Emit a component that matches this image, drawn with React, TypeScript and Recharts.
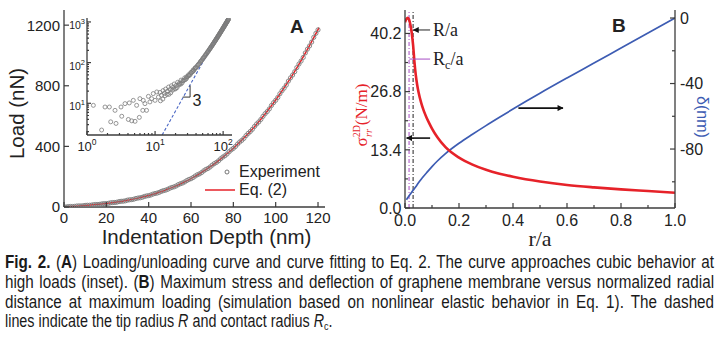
import React from 'react';
import { ComposedChart, Line, Scatter, XAxis, YAxis, ReferenceLine, ReferenceDot, Legend } from 'recharts';

const SANS = '"Liberation Sans", Arial, Helvetica, sans-serif';
const SERIF = '"Liberation Serif", "Times New Roman", serif';
const AX = '#3c3c3c';
const RED = '#e62229';
const BLUE = '#3d5cb3';
const PURPLE = '#a64dc4';
const GRAY = '#7c7c7c';

// ---- panel A: load vs indentation depth ----
const fitDepth = [0, 5, 10, 15, 20, 25, 30, 35, 40, 45, 50, 55, 60, 65, 70, 75, 80, 85, 90, 95, 100, 105, 110, 115, 120, 120.5];
const fitLoad = [0, 4.7, 9.8, 15.9, 23.3, 32.6, 44.2, 58.5, 76.1, 97.4, 122.8, 152.8, 187.8, 228.4, 275, 328, 388, 455, 530, 614, 706, 807, 918, 1040, 1171, 1184];

// loading branch
const upDepth = [0, 2, 4, 6, 8, 10, 12, 14, 16, 18, 20, 22, 24, 26, 28, 30, 32, 34, 36, 38, 40, 42, 44, 46, 48, 50, 52, 54, 56, 58, 60, 62, 64, 66, 68, 70, 72, 74, 76, 78, 80, 82, 84, 86, 88, 90, 92, 94, 96, 98, 100, 102, 104, 106, 108, 110, 112, 114, 116, 118, 120];
const upLoad = [0.5, 2.5, 3.1, 6.4, 7.0, 10.6, 11.5, 15.3, 16.6, 20.9, 22.6, 27.7, 29.8, 35.6, 38.4, 45.1, 48.7, 56.3, 60.9, 69.5, 75.2, 85.0, 91.9, 103.0, 111.2, 123.9, 133.1, 147.5, 158.3, 174.4, 186.6, 204.5, 218.6, 238.5, 254.3, 276.2, 294.1, 318.2, 338.1, 364.5, 386.6, 415.4, 439.8, 471.1, 498.0, 531.5, 561.2, 598.0, 629.9, 669.8, 704.3, 747.2, 784.6, 830.7, 871.0, 920.0, 963.5, 1016.6, 1063.0, 1119.6, 1168.8];
// unloading branch
const downDepth = [1, 3, 5, 7, 9, 11, 13, 15, 17, 19, 21, 23, 25, 27, 29, 31, 33, 35, 37, 39, 41, 43, 45, 47, 49, 51, 53, 55, 57, 59, 61, 63, 65, 67, 69, 71, 73, 75, 77, 79, 81, 83, 85, 87, 89, 91, 93, 95, 97, 99, 101, 103, 105, 107, 109, 111, 113, 115, 117, 119];
const downLoad = [0.2, 3.4, 4.1, 7.3, 8.1, 11.6, 12.7, 16.5, 18.1, 22.3, 24.2, 29.3, 31.9, 37.6, 40.8, 47.5, 51.6, 59.2, 64.2, 73.0, 79.1, 89.0, 96.5, 108.0, 116.6, 129.3, 139.0, 153.7, 165.2, 181.6, 194.4, 212.8, 227.3, 247.9, 263.9, 286.3, 304.7, 329.4, 349.6, 377.0, 399.2, 428.8, 453.1, 485.6, 512.9, 547.9, 577.8, 615.6, 647.3, 688.3, 723.0, 767.4, 804.6, 852.0, 893.0, 943.4, 986.9, 1041.5, 1088.4, 1145.9];

// inset (log-log): noisy low-load points and the spread band
const lowDepth = [1.24, 1.64, 1.84, 2.13, 2.23, 2.58, 2.67, 3.16, 3.24, 3.62, 4.05, 4.18, 4.54, 4.79, 5.08, 5.36, 5.87, 5.99, 6.6, 6.7, 7.1, 7.5, 7.98, 8.4, 8.9, 9.4, 10, 10.6, 11.2];
const lowLoad = [8.9, 2.2, 8.1, 8.1, 3.5, 6.7, 3.2, 8.1, 4.8, 9.8, 4.0, 10.2, 3.7, 11.8, 3.6, 8.9, 4.5, 13, 6.7, 11.8, 9.8, 6.7, 14.8, 10.8, 13, 17.3, 11.8, 19, 14.2];
const bandDepth = [11.8, 12.4, 13.1, 13.7, 14.3, 15.2, 15.8, 16.6, 17.4, 18.3, 19.1, 20.4, 21.5, 22.7, 24.1, 25.6, 27.2, 28.9, 31.0, 33.5, 36.2, 39.0];
const bandLoad = [18.5, 15.8, 20.5, 17.6, 22.4, 19.8, 25.1, 21.9, 27.0, 24.6, 29.8, 27.5, 32.9, 31.0, 37.2, 36.1, 42.0, 44.5, 50.2, 57.0, 66.0, 75.0];
const cubeDepth = [12.7, 115];
const cubeLoad = [1.66, 1230];
const markDepth = [25.5, 32.7, 32.7];
const markLoad = [14.2, 14.2, 27.5];

const depthTicks = [0, 20, 40, 60, 80, 100, 120];
const loadTicks = [0, 400, 800, 1200];
const logXTicks = [1, 2, 3, 4, 5, 6, 7, 8, 9, 10, 20, 30, 40, 50, 60, 70, 80, 90, 100];
const logXMajors = [1, 10, 100];
const logYTicks = [2, 3, 4, 5, 6, 7, 8, 9, 10, 20, 30, 40, 50, 60, 70, 80, 90, 100, 200, 300, 400, 500, 600, 700, 800, 900, 1000];
const logYMajors = [10, 100, 1000];
const insetXRange = [1, 135];
const insetYRange = [1.66, 1250];

// ---- panel B: stress and deflection vs r/a ----
const rStress = [0, 0.005, 0.01, 0.015, 0.02, 0.025, 0.03, 0.035, 0.04, 0.045, 0.05, 0.06, 0.07, 0.08, 0.09, 0.1, 0.12, 0.15, 0.2, 0.25, 0.3, 0.35, 0.4, 0.5, 0.6, 0.7, 0.8, 0.9, 1.0];
const stress = [42.8, 43.5, 43.8, 43.4, 42.2, 40.3, 37.5, 33.6, 30.6, 28.4, 26.7, 24.2, 22.3, 20.8, 19.5, 18.3, 16.3, 14.0, 11.6, 10.0, 8.8, 7.9, 7.2, 6.1, 5.3, 4.75, 4.3, 3.9, 3.5];
const rDefl = [0.005, 0.01, 0.02, 0.03, 0.04, 0.05, 0.06, 0.08, 0.1, 0.12, 0.15, 0.2, 0.25, 0.3, 0.35, 0.4, 0.45, 0.5, 0.6, 0.7, 0.8, 0.9, 1.0];
const defl = [-111, -109.8, -107.5, -105.2, -103, -100.6, -98.4, -94.5, -90.7, -87.3, -82.8, -76.5, -71.0, -65.7, -60.6, -55.6, -50.7, -45.9, -36.6, -27.5, -18.3, -9.15, 0];

const rTicks = [0, 0.1, 0.2, 0.3, 0.4, 0.5, 0.6, 0.7, 0.8, 0.9, 1.0];
const rMajors = [0, 0.2, 0.4, 0.6, 0.8, 1.0];
const stressTicks = [0, 6.7, 13.4, 20.1, 26.8, 33.5, 40.2];
const stressMajors = [0, 13.4, 26.8, 40.2];
const deflTicks = [0, -20, -40, -60, -80, -100];
const deflMajors = [0, -40, -80];

const fitPts = fitDepth.map((d, i) => ({ d, p: fitLoad[i] }));
const expPts = [
  ...upDepth.map((d, i) => ({ d, p: upLoad[i] })),
  ...downDepth.map((d, i) => ({ d, p: downLoad[i] })),
];
// inset works in decades: log10 of depth and load on linear axes
const lg = Math.log10;
const toLog = (pt: { d: number; p: number }) => ({ lx: lg(pt.d), ly: lg(pt.p) });
const insetPts = [
  ...lowDepth.map((d, i) => ({ d, p: lowLoad[i] })),
  ...bandDepth.map((d, i) => ({ d, p: bandLoad[i] })),
  ...expPts.filter((pt) => pt.d >= 12),
].map(toLog);
const cubePts = cubeDepth.map((d, i) => toLog({ d, p: cubeLoad[i] }));
const markPts = markDepth.map((d, i) => toLog({ d, p: markLoad[i] }));
const stressPts = rStress.map((r, i) => ({ r, s: stress[i] }));
const deflPts = rDefl.map((r, i) => ({ r, s: defl[i] }));

type Side = 'bottom' | 'top' | 'left' | 'right';
interface TickOpts {
  side: Side;
  majors: number[];
  label?: (v: number) => React.ReactNode;
  fontSize?: number;
  len?: number;
  minorLen?: number;
  gap?: number;
  dy?: number;
}

// inward tick marks, labels only on major ticks
function makeTick(o: TickOpts) {
  const len = o.len ?? 5;
  const minorLen = o.minorLen ?? 3;
  const gap = o.gap ?? 4;
  const fs = o.fontSize ?? 15;
  return (props: any) => {
    const { x, y, payload } = props;
    const v = payload.value;
    const major = o.majors.some((m) => Math.abs(m - v) < 1e-9);
    const l = major ? len : minorLen;
    let mark;
    if (o.side === 'bottom') mark = <line x1={x} y1={y} x2={x} y2={y - l} />;
    else if (o.side === 'top') mark = <line x1={x} y1={y} x2={x} y2={y + l} />;
    else if (o.side === 'left') mark = <line x1={x} y1={y} x2={x + l} y2={y} />;
    else mark = <line x1={x} y1={y} x2={x - l} y2={y} />;
    let text = null;
    if (major && o.label) {
      const st = { fontSize: fs, fontFamily: SANS, fill: '#222' };
      if (o.side === 'bottom') {
        text = <text x={x} y={y + gap + fs * 0.75} textAnchor="middle" {...st}>{o.label(v)}</text>;
      } else if (o.side === 'left') {
        text = <text x={x - gap} y={y + (o.dy ?? fs * 0.36)} textAnchor="end" {...st}>{o.label(v)}</text>;
      } else if (o.side === 'right') {
        text = <text x={x + gap} y={y + fs * 0.36} textAnchor="start" {...st}>{o.label(v)}</text>;
      }
    }
    return (
      <g>
        <g stroke={AX} strokeWidth={1.2}>{mark}</g>
        {text}
      </g>
    );
  };
}

const axisLine = { stroke: AX, strokeWidth: 1.3 };
const bare = { tickLine: false, tickSize: 0, tickMargin: 0, interval: 0 as const, allowDataOverflow: true, axisLine };

// decade label 10^n for a tick placed at log10 value n
const logLabel = (big: number, small: number, rise: number) => (v: number) => (
  <>
    <tspan fontSize={big}>10</tspan>
    <tspan fontSize={small} dy={-rise}>{String(Math.round(v))}</tspan>
  </>
);

function ExpLegend(props: any) {
  const items = [...(props.payload || [])].sort(
    (a: any, b: any) => (a.type === 'line' ? 1 : 0) - (b.type === 'line' ? 1 : 0),
  );
  return (
    <div style={{ fontFamily: SANS, fontSize: 16, color: '#222', lineHeight: '18px' }}>
      {items.map((it: any) => (
        <div key={it.value} style={{ display: 'flex', alignItems: 'center', height: 18 }}>
          <svg width={37} height={18}>
            {it.type === 'line' ? (
              <line x1={5} y1={9} x2={35} y2={9} stroke={RED} strokeWidth={1.5} />
            ) : (
              <circle cx={27} cy={9} r={2} fill="none" stroke="#666" strokeWidth={0.9} />
            )}
          </svg>
          <span style={{ marginLeft: 2 }}>{it.value}</span>
        </div>
      ))}
    </div>
  );
}

function PanelA() {
  return (
    <ComposedChart width={340} height={262} margin={{ top: 10, right: 15, bottom: 0, left: 0 }}>
      <XAxis xAxisId="x" type="number" dataKey="d" domain={[0, 123.3]} ticks={depthTicks} height={55} {...bare}
        tick={makeTick({ side: 'bottom', majors: depthTicks, label: (v) => v, fontSize: 15, gap: 5 })}
        label={({ viewBox }: any) => (
          <text x={viewBox.x + viewBox.width / 2 + 12} y={viewBox.y + 37} textAnchor="middle"
            fontFamily={SANS} fontSize={20.5} fill="#222">Indentation Depth (nm)</text>
        )} />
      <XAxis xAxisId="xt" orientation="top" type="number" domain={[0, 123.3]} ticks={depthTicks} height={0} {...bare}
        tick={makeTick({ side: 'top', majors: depthTicks })} />
      <YAxis yAxisId="y" type="number" dataKey="p" domain={[0, 1300]} ticks={loadTicks} width={64} {...bare}
        tick={makeTick({ side: 'left', majors: loadTicks, label: (v) => v, fontSize: 15, gap: 4 })}
        label={({ viewBox }: any) => {
          const cx = viewBox.x + 17;
          const cy = viewBox.y + viewBox.height / 2 + 5;
          return (
            <text x={cx} y={cy + 7} transform={`rotate(-90 ${cx} ${cy})`} textAnchor="middle"
              fontFamily={SANS} fontSize={20.5} fill="#222">Load (nN)</text>
          );
        }} />
      <YAxis yAxisId="yr" orientation="right" type="number" domain={[0, 1300]} ticks={loadTicks} width={0} {...bare}
        tick={makeTick({ side: 'right', majors: loadTicks })} />
      <Scatter xAxisId="x" yAxisId="y" name="Experiment" data={expPts} isAnimationActive={false}
        shape={(p: any) => <circle cx={p.cx} cy={p.cy} r={2.1} fill="none" stroke={GRAY} strokeWidth={0.9} />} />
      <Line xAxisId="x" yAxisId="y" name="Eq. (2)" data={fitPts} dataKey="p" type="monotone" stroke={RED}
        strokeWidth={1.5} dot={false} isAnimationActive={false} />
      <Legend layout="horizontal" verticalAlign="middle" align="center" content={<ExpLegend />}
        wrapperStyle={{ left: 200, top: 163, width: 140, height: 36 }} />
    </ComposedChart>
  );
}

function Inset() {
  const xDom = insetXRange.map(lg);
  const yDom = insetYRange.map(lg);
  const xT = logXTicks.map(lg);
  const xM = logXMajors.map(lg);
  const yT = logYTicks.map(lg);
  const yM = logYMajors.map(lg);
  return (
    <ComposedChart width={240} height={160} margin={{ top: 18, right: 8, bottom: 0, left: 0 }}>
      <XAxis xAxisId="x" type="number" dataKey="lx" domain={xDom} ticks={xT} height={25} {...bare}
        tick={makeTick({ side: 'bottom', majors: xM, label: logLabel(13, 8.5, 6), fontSize: 13, gap: 6, len: 4, minorLen: 2 })} />
      <XAxis xAxisId="xt" orientation="top" type="number" domain={xDom} ticks={xT} height={0} {...bare}
        tick={makeTick({ side: 'top', majors: xM, len: 4, minorLen: 2 })} />
      <YAxis yAxisId="y" type="number" dataKey="ly" domain={yDom} ticks={yT} width={87} {...bare}
        tick={makeTick({ side: 'left', majors: yM, label: logLabel(10.5, 7.5, 5), fontSize: 10.5, gap: 2, dy: 7, len: 4, minorLen: 2 })} />
      <YAxis yAxisId="yr" orientation="right" type="number" domain={yDom} ticks={yT} width={0} {...bare}
        tick={makeTick({ side: 'right', majors: yM, len: 4, minorLen: 2 })} />
      <Line xAxisId="x" yAxisId="y" data={cubePts} dataKey="ly" stroke="#4a66c4" strokeWidth={1.1}
        strokeDasharray="3 2" dot={false} isAnimationActive={false} />
      <Scatter xAxisId="x" yAxisId="y" data={insetPts} isAnimationActive={false}
        shape={(p: any) => <circle cx={p.cx} cy={p.cy} r={2} fill="none" stroke={GRAY} strokeWidth={0.8} />} />
      <Line xAxisId="x" yAxisId="y" data={markPts} dataKey="ly" stroke="#333" strokeWidth={1}
        dot={false} isAnimationActive={false} />
      <ReferenceDot xAxisId="x" yAxisId="y" x={lg(35.5)} y={lg(11.8)} r={0} fill="none" stroke="none"
        label={({ viewBox }: any) => (
          <text x={viewBox.x} y={viewBox.y + 6} fontFamily={SANS} fontSize={16} fill="#222">3</text>
        )} />
    </ComposedChart>
  );
}

const arrowLine = (color: string, width: number, head: boolean) => (p: any) => (
  <line x1={p.x1} y1={p.y1} x2={p.x2} y2={p.y2} stroke={color} strokeWidth={width}
    markerEnd={head ? 'url(#arrowHead)' : undefined} />
);

function PanelB() {
  return (
    <ComposedChart width={380} height={262} margin={{ top: 10, right: 5, bottom: 0, left: 0 }}>
      <XAxis xAxisId="x" type="number" dataKey="r" domain={[0, 1]} ticks={rTicks} height={54} {...bare}
        tick={makeTick({ side: 'bottom', majors: rMajors, label: (v) => v.toFixed(1), fontSize: 16, gap: 6 })}
        label={({ viewBox }: any) => (
          <text x={viewBox.x + viewBox.width / 2} y={viewBox.y + 38} textAnchor="middle"
            fontFamily={SERIF} fontSize={22} fill="#222">r/a</text>
        )} />
      <XAxis xAxisId="xt" orientation="top" type="number" domain={[0, 1]} ticks={rTicks} height={0} {...bare}
        tick={makeTick({ side: 'top', majors: rMajors })} />
      <YAxis yAxisId="s" type="number" dataKey="s" domain={[0, 45.6]} ticks={stressTicks} width={65} {...bare}
        tick={makeTick({ side: 'left', majors: stressMajors, label: (v) => v.toFixed(1), fontSize: 16, gap: 3.5 })}
        label={({ viewBox }: any) => {
          const cx = viewBox.x + 21;
          const cy = 115;
          return (
            <text x={cx} y={cy + 6} transform={`rotate(-90 ${cx} ${cy})`} textAnchor="middle"
              fontFamily={SERIF} fontSize={17} fill={RED}>
              <tspan>σ</tspan>
              <tspan fontSize={10} dy={-7}>2D</tspan>
              <tspan fontSize={10} fontStyle="italic" dx={-12} dy={12}>rr</tspan>
              <tspan dx={4} dy={-5}>(N/m)</tspan>
            </text>
          );
        }} />
      <YAxis yAxisId="d" orientation="right" type="number" dataKey="s" domain={[-116, 4.9]} ticks={deflTicks} width={40} {...bare}
        tick={makeTick({ side: 'right', majors: deflMajors, label: (v) => String(v), fontSize: 16, gap: 5 })}
        label={({ viewBox }: any) => {
          const cx = viewBox.x + 28;
          const cy = 117;
          return (
            <text x={cx} y={cy + 6} transform={`rotate(90 ${cx} ${cy})`} textAnchor="middle"
              fontFamily={SANS} fontSize={16} fill={BLUE}>δ(nm)</text>
          );
        }} />
      <ReferenceLine xAxisId="x" yAxisId="s" x={0.015} stroke={PURPLE} strokeWidth={1} strokeDasharray="4 2 1 2" />
      <ReferenceLine xAxisId="x" yAxisId="s" x={0.03} stroke="#222" strokeWidth={1} strokeDasharray="4 2 1 2" />
      <Line xAxisId="x" yAxisId="d" data={deflPts} dataKey="s" type="monotone" stroke={BLUE} strokeWidth={1.7}
        dot={false} isAnimationActive={false} />
      <Line xAxisId="x" yAxisId="s" data={stressPts} dataKey="s" type="monotone" stroke={RED} strokeWidth={2.6}
        dot={false} isAnimationActive={false} />
      <ReferenceLine xAxisId="x" yAxisId="s" segment={[{ x: 0.093, y: 41 }, { x: 0.031, y: 41 }]}
        shape={arrowLine('#222', 1, true)} />
      <ReferenceLine xAxisId="x" yAxisId="s" segment={[{ x: 0.093, y: 34.3 }, { x: 0.016, y: 34.3 }]}
        shape={arrowLine(PURPLE, 1, false)} />
      <ReferenceLine xAxisId="x" yAxisId="s" segment={[{ x: 0.093, y: 16.1 }, { x: 0.006, y: 16.1 }]}
        shape={arrowLine('#111', 1.6, true)} />
      <ReferenceLine xAxisId="x" yAxisId="d" segment={[{ x: 0.42, y: -55 }, { x: 0.585, y: -55 }]}
        shape={arrowLine('#111', 1.6, true)} />
      <ReferenceDot xAxisId="x" yAxisId="s" x={0.104} y={41} r={0} fill="none" stroke="none"
        label={({ viewBox }: any) => (
          <text x={viewBox.x} y={viewBox.y + 6} fontFamily={SERIF} fontSize={18} fill="#222">R/a</text>
        )} />
      <ReferenceDot xAxisId="x" yAxisId="s" x={0.104} y={34.3} r={0} fill="none" stroke="none"
        label={({ viewBox }: any) => (
          <text x={viewBox.x} y={viewBox.y + 6} fontFamily={SERIF} fontSize={18} fill="#222">
            R<tspan fontSize={12} dy={4}>c</tspan><tspan dy={-4}>/a</tspan>
          </text>
        )} />
    </ComposedChart>
  );
}

function Overlay() {
  return (
    <svg width={720} height={352} style={{ position: 'absolute', left: 0, top: 0, pointerEvents: 'none' }}>
      <defs>
        <marker id="arrowHead" viewBox="0 0 10 10" refX="9" refY="5" markerWidth="10" markerHeight="6"
          markerUnits="userSpaceOnUse" orient="auto">
          <path d="M0,0 L10,5 L0,10 z" fill="#111" />
        </marker>
      </defs>
      <text x={290} y={33} fontFamily={SANS} fontWeight="bold" fontSize={19} fill="#222">A</text>
      <text x={612} y={32} fontFamily={SANS} fontWeight="bold" fontSize={19} fill="#222">B</text>
    </svg>
  );
}

// figure caption: condensed by a horizontal squeeze, justified lines
function Caption() {
  const base: React.CSSProperties = {
    position: 'absolute', left: 5, transformOrigin: '0 0',
    fontFamily: SANS, fontSize: 17.5, lineHeight: '19.8px', color: '#1a1a1a', whiteSpace: 'normal',
  };
  const just: React.CSSProperties = {
    ...base, width: 815, transform: 'scaleX(0.87)', textAlign: 'justify', textAlignLast: 'justify' as any,
  };
  const sub: React.CSSProperties = { fontSize: 11, verticalAlign: -3, lineHeight: 0 };
  return (
    <>
      <div style={{ ...just, top: 253 }}>
        <b>Fig. 2.</b> (<b>A</b>) Loading/unloading curve and curve fitting to Eq. 2. The curve approaches cubic behavior at
      </div>
      <div style={{ ...just, top: 272.8 }}>
        high loads (inset). (<b>B</b>) Maximum stress and deflection of graphene membrane versus normalized radial
      </div>
      <div style={{ ...just, top: 292.6 }}>
        distance at maximum loading (simulation based on nonlinear elastic behavior in Eq. 1). The dashed
      </div>
      <div style={{ ...base, top: 312.4, width: 400, transform: 'scaleX(0.82)' }}>
        lines indicate the tip radius <i>R</i> and contact radius <i>R</i><span style={sub}>c</span>.
      </div>
    </>
  );
}

export default function App() {
  return (
    <div style={{ position: 'absolute', left: 0, top: 0, width: 720, height: 352, background: '#fff', overflow: 'hidden' }}>
      <div style={{ position: 'absolute', left: 0, top: 0 }}><PanelA /></div>
      <div style={{ position: 'absolute', left: 0, top: 0 }}><Inset /></div>
      <div style={{ position: 'absolute', left: 340, top: 0 }}><PanelB /></div>
      <Overlay />
      <Caption />
    </div>
  );
}
